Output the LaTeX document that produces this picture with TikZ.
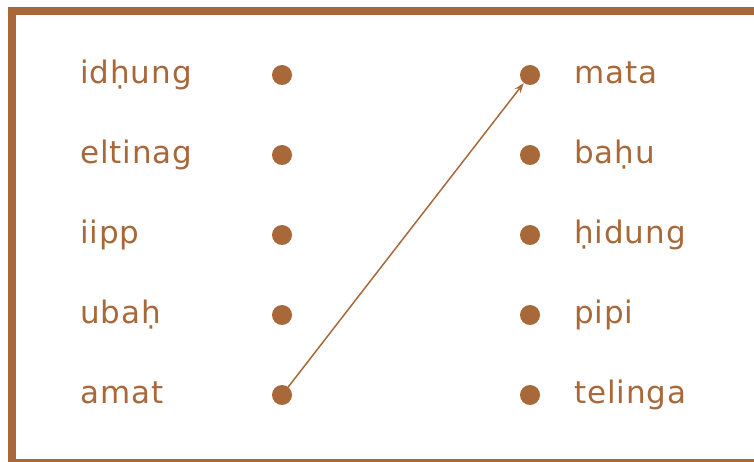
\documentclass[tikz,border=0pt]{standalone}
\usepackage{fontspec}
\setmainfont{DejaVu Sans}[LetterSpace=3]
\usetikzlibrary{arrows.meta}
\definecolor{brn}{HTML}{A8683A}
\begin{document}
\begin{tikzpicture}[x=1pt,y=-1pt,
  word/.style={text=brn,font=\fontsize{31}{33}\selectfont,inner sep=0pt,anchor=base west},
  dot/.style={circle,fill=brn,minimum size=20pt,inner sep=0pt}]
\useasboundingbox (0,0) rectangle (754,462);
\begin{scope}
\clip (0,0) rectangle (754,462);
\draw[brn,line width=8pt] (12,11) rectangle (800,463);
\end{scope}
\foreach \i/\l/\r [count=\n] in {75/idḥung/mata,155/eltinag/baḥu,235/iipp/ḥidung,315/ubaḥ/pipi,395/amat/telinga}{
  \node[word] (lw\n) at (80,\i+8.5) {\l};
  \node[dot] (ld\n) at (282,\i) {};
  \node[dot] (rd\n) at (530,\i) {};
  \node[word] (rw\n) at (574,\i+8.5) {\r};
}
\draw[brn,line width=1.5pt,-{Stealth[length=10pt,width=7pt]}] (ld5.center) -- (rd1);
\end{tikzpicture}
\end{document}
